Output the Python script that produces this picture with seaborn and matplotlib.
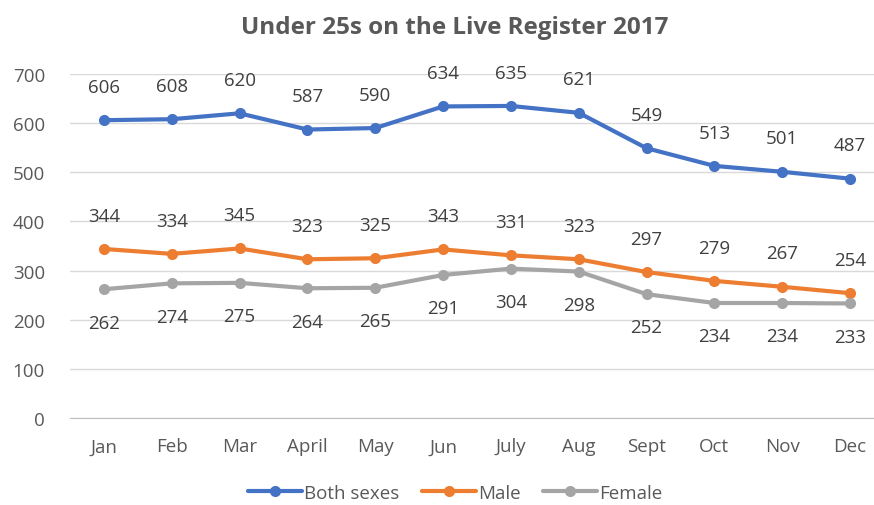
import pandas as pd
import matplotlib
matplotlib.use('Agg')
import matplotlib.pyplot as plt
import seaborn as sns

months = ['Jan', 'Feb', 'Mar', 'April', 'May', 'Jun', 'July', 'Aug', 'Sept', 'Oct', 'Nov', 'Dec']
both_sexes = [606, 608, 620, 587, 590, 634, 635, 621, 549, 513, 501, 487]
male = [344, 334, 345, 323, 325, 343, 331, 323, 297, 279, 267, 254]
female = [262, 274, 275, 264, 265, 291, 304, 298, 252, 234, 234, 233]

series_names = ['Both sexes', 'Male', 'Female']
colours = ['#4472C4', '#ED7D31', '#A5A5A5']

# long table for seaborn
rows = []
for name, vals in zip(series_names, [both_sexes, male, female]):
    for i, v in enumerate(vals):
        rows.append({'pos': i, 'month': months[i], 'value': v, 'series': name})
df = pd.DataFrame(rows)

sns.set_style('white')
plt.rcParams['font.family'] = ['Open Sans', 'DejaVu Sans']
text_col = '#595959'

fig = plt.figure(figsize=(8.74, 5.06), dpi=100)
ax = fig.add_axes([70 / 874, 1 - 419 / 506, (884 - 70) / 874, (419 - 75) / 506])

sns.lineplot(data=df, x='pos', y='value', hue='series', hue_order=series_names,
             palette=colours, marker='o', markersize=8, markeredgewidth=0,
             linewidth=3, ax=ax, legend=True)

# data labels: above for both sexes / male, below for female
for name, vals, off in zip(series_names, [both_sexes, male, female], [24, 24, -24]):
    for i, v in enumerate(vals):
        ax.annotate(str(v), (i, v), xytext=(0, off), textcoords='offset points',
                    ha='center', va='center', fontsize=13.5, color='#404040')

ax.set_xlim(-0.5, 11.5)
ax.set_ylim(0, 700)
ax.set_yticks(range(0, 701, 100))
ax.set_xticks(range(len(months)))
ax.set_xticklabels(months)
ax.yaxis.grid(True, color='#D9D9D9', linewidth=1)
ax.set_axisbelow(True)
for s in ['top', 'right', 'left']:
    ax.spines[s].set_visible(False)
ax.spines['bottom'].set_color('#BFBFBF')
ax.tick_params(axis='both', length=0, labelsize=13.5, labelcolor=text_col)
ax.tick_params(axis='x', pad=14)
ax.tick_params(axis='y', pad=18)
ax.set_xlabel('')
ax.set_ylabel('')

fig.text(455 / 874, 1 - 28 / 506, 'Under 25s on the Live Register 2017', ha='center', va='center',
         fontsize=17.5, fontweight='bold', color=text_col)

handles, labels = ax.get_legend_handles_labels()
ax.legend(handles, labels, loc='center', bbox_to_anchor=(455 / 874, 1 - 494 / 506),
          bbox_transform=fig.transFigure, ncol=3, frameon=False, fontsize=13.5,
          labelcolor=text_col, handlelength=2.9, handletextpad=0.1, columnspacing=1.2)

fig.savefig('out.png', dpi=100)
